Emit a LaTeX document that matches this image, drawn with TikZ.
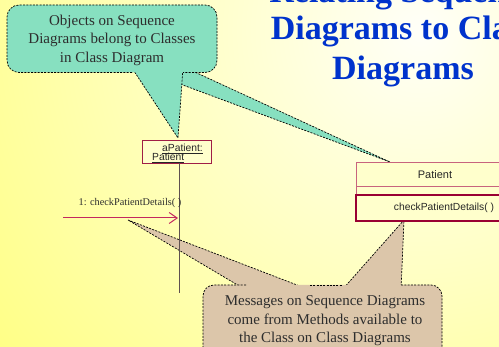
\documentclass[tikz,border=0pt]{standalone}
\usepackage{fontspec}
\setmainfont{Liberation Serif}
\newfontfamily\arialf{Liberation Sans}
\usetikzlibrary{arrows.meta}
\definecolor{bgyellow}{RGB}{255,255,80}
\definecolor{bgwhite}{RGB}{255,255,248}
\definecolor{titleblue}{RGB}{0,51,204}
\definecolor{tealfill}{RGB}{135,224,192}
\definecolor{brownfill}{RGB}{220,198,170}
\definecolor{umlred}{RGB}{153,0,51}
\definecolor{umlpink}{RGB}{200,100,125}
\definecolor{umlbox}{RGB}{160,30,70}
\definecolor{msgred}{RGB}{195,40,95}
\definecolor{umlfill}{RGB}{255,255,204}
\definecolor{txtdark}{RGB}{45,45,45}
\definecolor{lifegray}{RGB}{95,80,80}
\begin{document}
\begin{tikzpicture}[x=1pt,y=-1pt,
  cdash/.style={draw=black, line width=0.7pt, dash pattern=on 2pt off 1.3pt},
  calltext/.style={font=\fontsize{15}{18.5}\selectfont, text=txtdark, align=center, inner sep=0pt},
  titletext/.style={font=\fontsize{34}{40}\selectfont\bfseries, text=titleblue, inner sep=0pt, anchor=base},
  umltext/.style={font=\arialf\fontsize{10.3}{12}\selectfont, text=black!85, inner sep=0pt},
]
\useasboundingbox (0,0) rectangle (499,347);
\clip (0,0) rectangle (499,347);
% background
\shade[inner color=bgwhite, outer color=bgyellow] (420,30) circle (780);

% title
\node[titletext] (t1) at (403,3) {Relating Sequence};
\node[titletext] (t2) at (403,40) {Diagrams to Class};
\node[titletext] (t3) at (403,80) {Diagrams};

% top callout
\fill[tealfill, cdash] (137,68) -- (186,68) -- (390,162) -- cycle;
\fill[tealfill, cdash] (132,68) -- (183,68) -- (178,138) -- cycle;
\fill[tealfill, rounded corners=12pt] (7,5) rectangle (217,72.5);
\draw[cdash, rounded corners=12pt] (132,72.5) -- (7,72.5) -- (7,5) -- (217,5) -- (217,72.5) -- (183,72.5);
\node[calltext] (calloutA) at (112,40) {Objects on Sequence\\Diagrams belong to Classes\\in Class Diagram};

% bottom callout
\fill[brownfill, cdash] (246,290) -- (310,290) -- (128,220) -- cycle;
\fill[brownfill, cdash] (342,290) -- (401,290) -- (404,220) -- cycle;
\fill[brownfill, rounded corners=11pt] (203,285) rectangle (442,365);
\draw[cdash, rounded corners=11pt] (246,285) -- (203,285) -- (203,365);
\draw[cdash] (310,285) -- (342,285);
\draw[cdash, rounded corners=11pt] (401,285) -- (442,285) -- (442,365);
\node[calltext] (calloutB) at (325,321) {Messages on Sequence Diagrams\\come from Methods available to\\the Class on Class Diagrams};

% object box and lifeline
\node[draw=umlbox, fill=umlfill, line width=0.9pt, minimum width=69pt, minimum height=23pt, inner sep=0pt] (obj) at (176.5,151.5) {};
\node[umltext, anchor=base west] (objname) at (162,152) {\underline{aPatient:}};
\node[umltext, anchor=base west] (objclass) at (152,161) {\underline{Patient}};
\coordinate (lifeend) at (179,293);
\draw[lifegray, line width=0.8pt] (obj.south -| lifeend) -- (lifeend);

% message
\coordinate (msgstart) at (63,218);
\coordinate (msgend) at (178,218);
\draw[msgred, line width=1pt, -{Straight Barb[length=8pt,width=11pt]}] (msgstart) -- (msgend);
\node[font=\fontsize{10.3}{12}\selectfont, text=txtdark, inner sep=0pt, anchor=base] (msglabel) at (130,206) {1: checkPatientDetails( )};

% class box
\fill[umlfill] (356,163) rectangle (514,221);
\draw[umlpink, line width=1pt] (356,195) -- (356,163) -- (514,163);
\draw[umlpink, line width=1pt] (356,187) -- (514,187);
\draw[umlred, line width=1.3pt] (514,195) -- (356,195) -- (356,221) -- (514,221);
\node[umltext, font=\arialf\fontsize{11}{13}\selectfont] (clsname) at (435,175) {Patient};
\node[umltext] (clsop) at (444,207.5) {checkPatientDetails( )};
\end{tikzpicture}
\end{document}
